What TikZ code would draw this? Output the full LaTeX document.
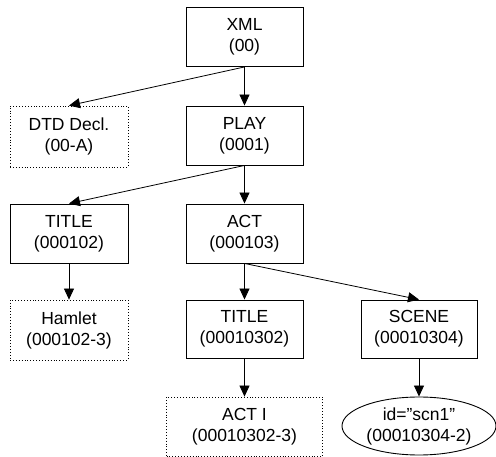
\documentclass[tikz,border=0pt]{standalone}
\usepackage{fontspec}
\setmainfont{Liberation Sans}
\usetikzlibrary{arrows.meta,shapes.geometric}
\begin{document}
\begin{tikzpicture}[x=1pt,y=-1pt,
  box/.style={draw,line width=0.9pt,minimum width=117pt,minimum height=59pt,align=center,font=\fontsize{17.5}{21}\selectfont,inner sep=0pt},
  dbox/.style={box,dotted,line width=0.8pt},
  ebox/.style={draw,ellipse,line width=0.9pt,minimum width=154pt,minimum height=58pt,align=center,font=\fontsize{17.5}{21}\selectfont,inner sep=0pt},
  arr/.style={-{Triangle[width=10pt,length=11pt]},line width=0.8pt}]
\useasboundingbox (0,0) rectangle (496,457);
\node[box] (xml) at (244.5,37) {XML\\(00)};
\node[dbox,minimum width=118pt,minimum height=61pt] (dtd) at (69,136.5) {DTD Decl.\\(00-A)};
\node[box] (play) at (244.5,135.5) {PLAY\\(0001)};
\node[box,minimum width=118pt] (title1) at (69,233.5) {TITLE\\(000102)};
\node[box] (act) at (244.5,233.5) {ACT\\(000103)};
\node[dbox,minimum width=118pt,minimum height=60pt] (hamlet) at (69,330) {Hamlet\\(000102-3)};
\node[box,minimum height=58pt] (title2) at (244.5,329) {TITLE\\(00010302)};
\node[box,minimum width=116pt,minimum height=58pt] (scene) at (419,329) {SCENE\\(00010304)};
\node[dbox,minimum width=156pt,minimum height=59pt] (acti) at (244.5,426.5) {ACT I\\(00010302-3)};
\node[ebox] (id) at (419,426) {id="scn1"\\(00010304-2)};
\draw[arr] (xml.south) -- (dtd.north);
\draw[arr] (xml.south) -- (play.north);
\draw[arr] (play.south) -- (title1.north);
\draw[arr] (play.south) -- (act.north);
\draw[arr] (title1.south) -- (hamlet.north);
\draw[arr] (act.south) -- (title2.north);
\draw[arr] (act.south) -- (scene.north);
\draw[arr] (title2.south) -- (acti.north);
\draw[arr] (scene.south) -- (id.north);
\end{tikzpicture}
\end{document}
